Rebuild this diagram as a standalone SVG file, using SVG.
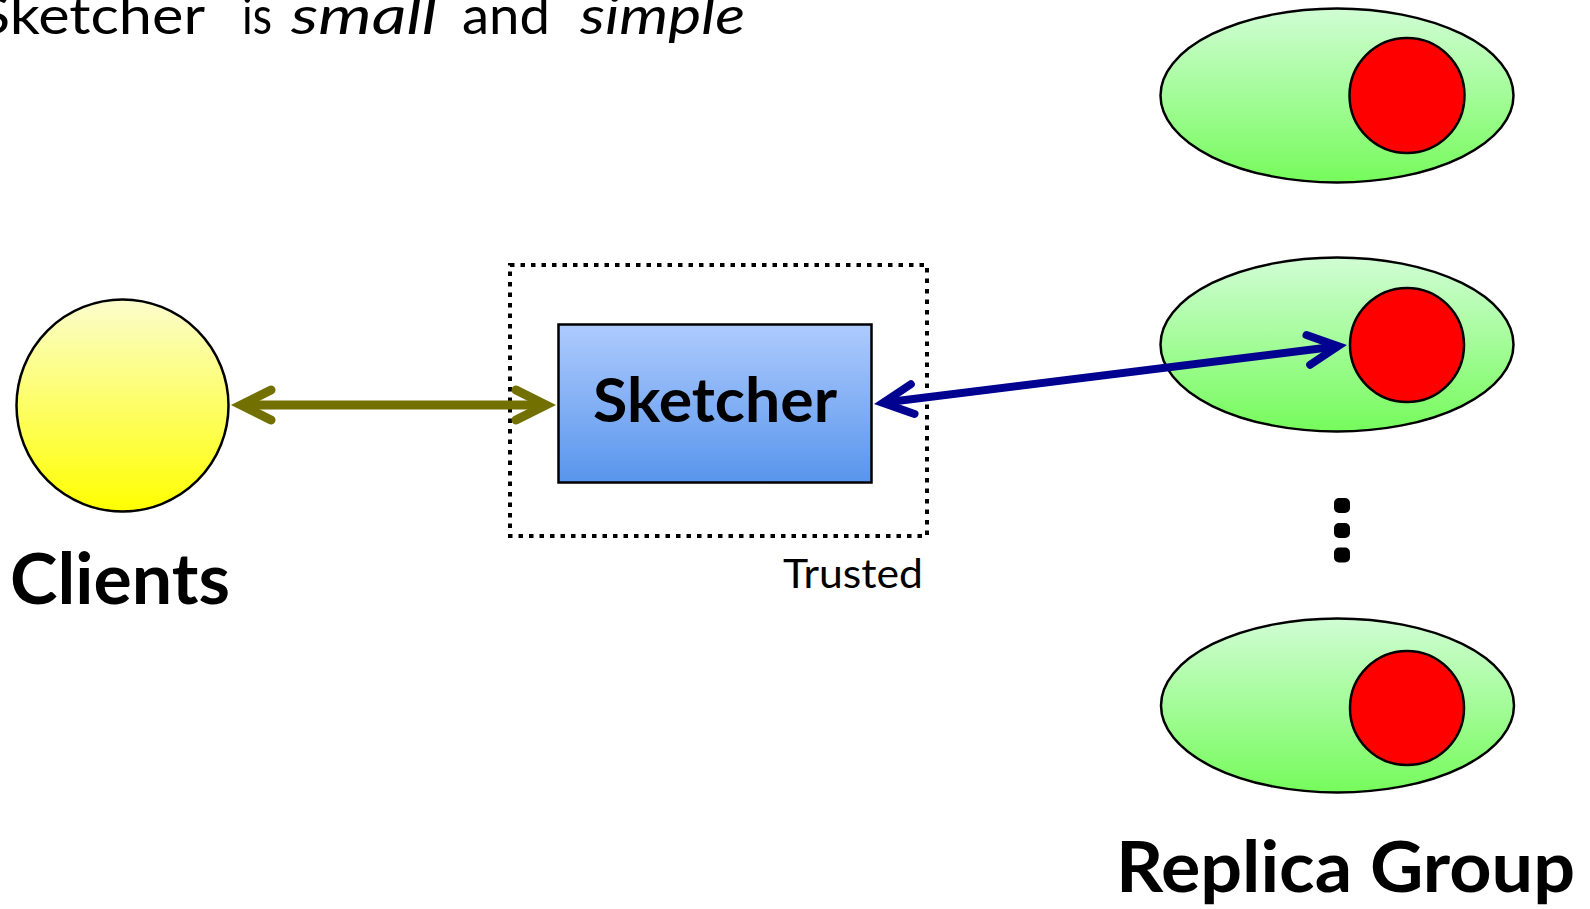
<svg xmlns="http://www.w3.org/2000/svg" width="1590" height="909" viewBox="0 0 1590 909">
<style>
  .t { font-family: Lato, "Liberation Sans", sans-serif; fill: #000; }
  .b { font-weight: bold; }
  .i { font-style: italic; }
  .ol { stroke: #000; stroke-width: 2.5; }
  .conn-olive { stroke: #727000; stroke-width: 9; fill: none; }
  .conn-blue { stroke: #020290; stroke-width: 8; fill: none; }
</style>
<defs>
  <linearGradient id="gYellow" x1="0" y1="0" x2="0" y2="1">
    <stop offset="0" stop-color="#fbfdcc"/>
    <stop offset="1" stop-color="#ffff00"/>
  </linearGradient>
  <linearGradient id="gGreen" x1="0" y1="0" x2="0" y2="1">
    <stop offset="0" stop-color="#d0fdd4"/>
    <stop offset="1" stop-color="#76fb5c"/>
  </linearGradient>
  <linearGradient id="gBlue" x1="0" y1="0" x2="0" y2="1">
    <stop offset="0" stop-color="#aecbfd"/>
    <stop offset="1" stop-color="#5895ec"/>
  </linearGradient>
  <marker id="mOlive" markerUnits="userSpaceOnUse" orient="auto-start-reverse" viewBox="-50 -25 65 50" refX="0" refY="0" markerWidth="65" markerHeight="50" overflow="visible">
    <path d="M -30 -15 L 0 0 L -30 15" fill="none" stroke="#727000" stroke-width="9" stroke-linecap="round" stroke-linejoin="miter"/>
  </marker>
  <marker id="mBlue" markerUnits="userSpaceOnUse" orient="auto-start-reverse" viewBox="-50 -25 65 50" refX="0" refY="0" markerWidth="65" markerHeight="50" overflow="visible">
    <path d="M -30 -15 L 0 0 L -30 15" fill="none" stroke="#020290" stroke-width="8" stroke-linecap="round" stroke-linejoin="miter"/>
  </marker>
</defs>
<rect width="1590" height="909" fill="#fff"/>

<g id="title">
  <text class="t" font-size="52" x="-22" y="34" textLength="227" lengthAdjust="spacingAndGlyphs">Sketcher</text>
  <text class="t" font-size="52" x="242" y="34" textLength="30" lengthAdjust="spacingAndGlyphs">is</text>
  <text class="t i" font-size="52" x="291" y="34" textLength="146" lengthAdjust="spacingAndGlyphs">small</text>
  <text class="t" font-size="52" x="462" y="34" textLength="88" lengthAdjust="spacingAndGlyphs">and</text>
  <text class="t i" font-size="52" x="580" y="34" textLength="165" lengthAdjust="spacingAndGlyphs">simple</text>
</g>

<g id="trusted-zone">
  <rect x="510" y="265" width="417" height="271" fill="none" stroke="#000" stroke-width="4" stroke-dasharray="4.5 6"/>
  <text class="t" font-size="40" x="783" y="588" textLength="140" lengthAdjust="spacingAndGlyphs">Trusted</text>
</g>

<g id="clients">
  <circle cx="122.5" cy="405.5" r="106" fill="url(#gYellow)" class="ol"/>
  <text class="t b" font-size="70" x="10" y="604" textLength="220" lengthAdjust="spacingAndGlyphs">Clients</text>
</g>

<g id="sketcher">
  <rect x="558.5" y="324.5" width="313" height="158" fill="url(#gBlue)" class="ol"/>
  <text class="t b" font-size="61" x="593" y="422" textLength="244" lengthAdjust="spacingAndGlyphs">Sketcher</text>
</g>

<g id="replica-1">
  <ellipse cx="1337" cy="95.5" rx="176.5" ry="87" fill="url(#gGreen)" class="ol"/>
  <circle cx="1407" cy="95.5" r="57.5" fill="#ff0000" class="ol"/>
</g>

<g id="replica-2">
  <ellipse cx="1337" cy="344.5" rx="176.5" ry="87" fill="url(#gGreen)" class="ol"/>
  <circle cx="1407" cy="345" r="57" fill="#ff0000" class="ol"/>
</g>

<g id="ellipsis">
  <rect x="1334" y="498" width="16" height="15" rx="5" fill="#000"/>
  <rect x="1334" y="523" width="16" height="15" rx="5" fill="#000"/>
  <rect x="1334" y="547.5" width="16" height="15" rx="5" fill="#000"/>
</g>

<g id="replica-3">
  <ellipse cx="1337.5" cy="705.5" rx="176.5" ry="87" fill="url(#gGreen)" class="ol"/>
  <circle cx="1407" cy="708" r="57" fill="#ff0000" class="ol"/>
</g>

<g id="replica-group-label">
  <text class="t b" font-size="70" x="1116" y="892" textLength="459" lengthAdjust="spacingAndGlyphs">Replica Group</text>
</g>

<g id="connectors">
  <line x1="241" y1="405" x2="546" y2="405" class="conn-olive" marker-start="url(#mOlive)" marker-end="url(#mOlive)"/>
  <line x1="882.9" y1="402.8" x2="1338.1" y2="346.2" class="conn-blue" marker-start="url(#mBlue)" marker-end="url(#mBlue)"/>
</g>
</svg>
